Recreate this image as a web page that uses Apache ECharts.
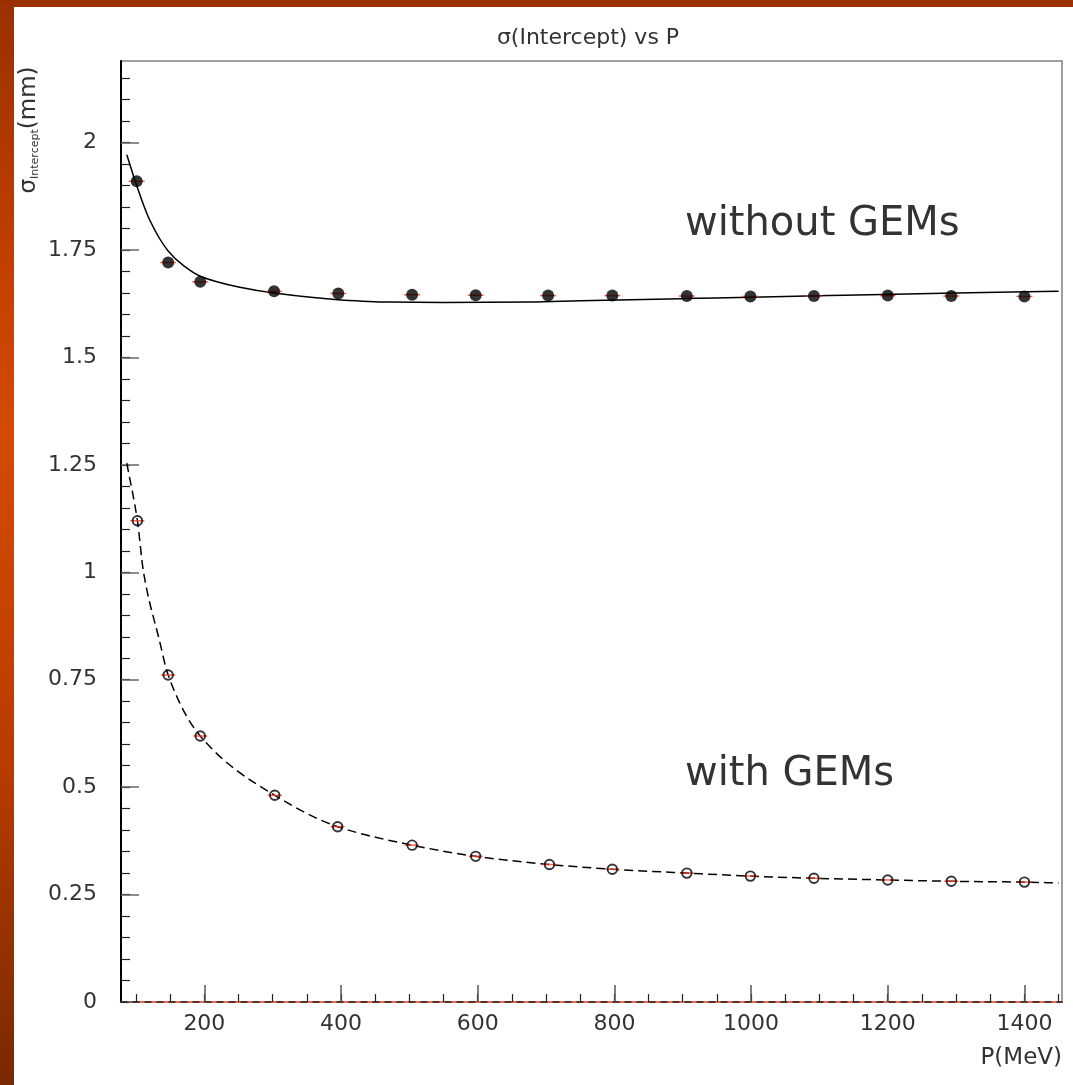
<!DOCTYPE html>
<html>
<head>
<meta charset="utf-8">
<title>σ(Intercept) vs P</title>
<script src="https://cdn.jsdelivr.net/npm/echarts@6/dist/echarts.min.js"></script>
<style>
  html, body { margin: 0; padding: 0; width: 1073px; height: 1085px; overflow: hidden; }
  body { background: linear-gradient(to bottom, #9a3000 0%, #c24000 25%, #d44a00 40%, #b83c00 70%, #7a2800 100%); position: relative; }
  #panel { position: absolute; left: 14px; top: 7px; width: 1059px; height: 1078px; background: #ffffff; }
  #chart { position: absolute; left: 0; top: 0; width: 1073px; height: 1085px; }
</style>
</head>
<body>
<div id="panel"></div>
<div id="chart"></div>
<script>
// Momentum (MeV) and intercept resolution (mm) for the two tracking setups
const pWithoutGEMs = [101, 147, 194, 302, 396, 504, 597, 703, 797, 906, 999, 1092, 1200, 1293, 1400];
const sigmaWithoutGEMs = [1.910, 1.721, 1.676, 1.654, 1.649, 1.646, 1.645, 1.644, 1.644, 1.643, 1.642, 1.643, 1.644, 1.643, 1.642];

const pWithGEMs = [102, 147, 194, 303, 395, 504, 597, 705, 797, 906, 999, 1092, 1200, 1293, 1400];
const sigmaWithGEMs = [1.120, 0.761, 0.619, 0.481, 0.408, 0.365, 0.339, 0.320, 0.309, 0.300, 0.293, 0.288, 0.284, 0.281, 0.279];

// Fitted curves, sampled along P
const fitWithoutP = [86.5, 101, 120, 147, 170, 194, 250, 302, 400, 470, 550, 676, 750, 900, 1000, 1115, 1300, 1450];
const fitWithoutSigma = [1.972, 1.900, 1.820, 1.748, 1.713, 1.689, 1.664, 1.650, 1.634, 1.629, 1.628, 1.629, 1.632, 1.637, 1.640, 1.644, 1.650, 1.654];

const fitWithP = [86.5, 102, 111, 134, 147, 194, 303, 395, 504, 597, 705, 797, 906, 999, 1092, 1200, 1293, 1400, 1450];
const fitWithSigma = [1.254, 1.120, 1.000, 0.843, 0.761, 0.619, 0.481, 0.408, 0.365, 0.339, 0.320, 0.309, 0.300, 0.293, 0.288, 0.284, 0.281, 0.279, 0.277];

// Axis ticks and labels
const xMajorTicks = [200, 400, 600, 800, 1000, 1200, 1400];
const yMajorTicks = [0, 0.25, 0.5, 0.75, 1, 1.25, 1.5, 1.75, 2];
const xMinorTicks = [];
for (let v = 100; v <= 1450; v += 50) xMinorTicks.push(v);
const yMinorTicks = [];
for (let i = 0; i <= 43; i++) yMinorTicks.push(+(i * 0.05).toFixed(2));

const X_MIN = 78, X_MAX = 1455, Y_MIN = 0, Y_MAX = 2.19;
const FONT = '"DejaVu Sans", "Liberation Sans", sans-serif';
const TEXT = '#333333';

const zip = (xs, ys) => xs.map((x, i) => [x, ys[i]]);

// Monotone cubic (Fritsch–Carlson) path through the projected fit samples
function monotonePath(pts) {
  const n = pts.length;
  if (n < 2) return '';
  const h = [], d = [], m = new Array(n);
  for (let i = 0; i < n - 1; i++) {
    h[i] = pts[i + 1][0] - pts[i][0];
    d[i] = (pts[i + 1][1] - pts[i][1]) / h[i];
  }
  m[0] = d[0];
  m[n - 1] = d[n - 2];
  for (let i = 1; i < n - 1; i++) {
    if (d[i - 1] * d[i] <= 0) { m[i] = 0; continue; }
    const w1 = 2 * h[i] + h[i - 1], w2 = h[i] + 2 * h[i - 1];
    m[i] = (w1 + w2) / (w1 / d[i - 1] + w2 / d[i]);
  }
  let s = 'M' + pts[0][0] + ' ' + pts[0][1];
  for (let i = 0; i < n - 1; i++) {
    const t = h[i] / 3;
    s += ' C' + (pts[i][0] + t) + ' ' + (pts[i][1] + m[i] * t) + ' ' +
         (pts[i + 1][0] - t) + ' ' + (pts[i + 1][1] - m[i + 1] * t) + ' ' +
         pts[i + 1][0] + ' ' + pts[i + 1][1];
  }
  return s;
}

function curveSeries(name, xs, ys, dash) {
  return {
    name: name, type: 'custom', z: 2, silent: true, clip: true,
    data: zip(xs, ys),
    renderItem: function (params, api) {
      if (params.dataIndex !== 0) return null;
      const pts = xs.map((x, i) => api.coord([x, ys[i]]));
      return {
        type: 'path',
        shape: { pathData: monotonePath(pts) },
        style: { fill: null, stroke: '#000', lineWidth: 1.5, lineDash: dash }
      };
    }
  };
}

const chart = echarts.init(document.getElementById('chart'), null, { renderer: 'canvas' });

chart.setOption({
  backgroundColor: 'transparent',
  animation: false,
  grid: {
    left: 121, right: 11, top: 61, bottom: 83,
    show: true, borderColor: '#808080', borderWidth: 1.5, backgroundColor: 'transparent'
  },
  xAxis: [
    {
      type: 'value', min: X_MIN, max: X_MAX, position: 'bottom',
      axisLine: { show: true, lineStyle: { color: '#ff5a3a', width: 1.5 } },
      axisTick: { show: true, inside: true, length: 8, customValues: xMinorTicks, lineStyle: { color: '#222', width: 1.2 } },
      axisLabel: { show: false },
      splitLine: { show: false }
    },
    {
      type: 'value', min: X_MIN, max: X_MAX, position: 'bottom', z: 3,
      axisLine: { show: true, lineStyle: { color: '#222', width: 1.5, type: [6, 6] } },
      axisTick: { show: true, inside: true, length: 17, customValues: xMajorTicks, lineStyle: { color: '#555', width: 1.5 } },
      axisLabel: { show: true, customValues: xMajorTicks, margin: 11, fontFamily: FONT, fontSize: 22, color: TEXT,
                   formatter: v => String(v) },
      splitLine: { show: false }
    }
  ],
  yAxis: [
    {
      type: 'value', min: Y_MIN, max: Y_MAX, position: 'left',
      axisLine: { show: true, lineStyle: { color: '#000', width: 2 } },
      axisTick: { show: true, inside: true, length: 9, customValues: yMinorTicks, lineStyle: { color: '#222', width: 1.2 } },
      axisLabel: { show: false },
      splitLine: { show: false }
    },
    {
      type: 'value', min: Y_MIN, max: Y_MAX, position: 'left',
      axisLine: { show: false },
      axisTick: { show: true, inside: true, length: 18, customValues: yMajorTicks, lineStyle: { color: '#666', width: 1.5 } },
      axisLabel: { show: true, customValues: yMajorTicks, margin: 24, fontFamily: FONT, fontSize: 22, color: TEXT,
                   formatter: v => String(v) },
      splitLine: { show: false }
    }
  ],
  series: [
    curveSeries('fit without GEMs', fitWithoutP, fitWithoutSigma, null),
    curveSeries('fit with GEMs', fitWithP, fitWithSigma, [9, 5]),
    {
      name: 'error without GEMs', type: 'scatter', data: zip(pWithoutGEMs, sigmaWithoutGEMs),
      symbol: 'rect', symbolSize: [16, 1.5], z: 3, silent: true,
      itemStyle: { color: '#ff3b1f' }
    },
    {
      name: 'error with GEMs', type: 'scatter', data: zip(pWithGEMs, sigmaWithGEMs),
      symbol: 'rect', symbolSize: [14, 1.5], z: 3, silent: true,
      itemStyle: { color: '#ff3b1f' }
    },
    {
      name: 'without GEMs', type: 'scatter', data: zip(pWithoutGEMs, sigmaWithoutGEMs),
      symbol: 'circle', symbolSize: 12, z: 4,
      itemStyle: { color: '#000' }
    },
    {
      name: 'with GEMs', type: 'scatter', data: zip(pWithGEMs, sigmaWithGEMs),
      symbol: 'circle', symbolSize: 9.5, z: 4,
      itemStyle: { color: 'rgba(255,255,255,0)', borderColor: '#000', borderWidth: 1.9 }
    }
  ],
  graphic: [
    {
      type: 'text', z: 10, x: 588, y: 38,
      style: { text: 'σ(Intercept) vs P', font: '22px ' + FONT, fill: TEXT, align: 'center', verticalAlign: 'middle' }
    },
    {
      type: 'text', z: 10, x: 41, y: 130, rotation: Math.PI / 2,
      style: {
        text: '{m|σ}{s|Intercept}{m|(mm)}',
        align: 'center', verticalAlign: 'bottom',
        rich: {
          m: { font: '23px ' + FONT, fill: TEXT, verticalAlign: 'bottom', lineHeight: 28 },
          s: { font: '11px ' + FONT, fill: TEXT, verticalAlign: 'bottom', lineHeight: 12 }
        }
      }
    },
    {
      type: 'text', z: 10, x: 1062, y: 1058,
      style: { text: 'P(MeV)', font: '23px ' + FONT, fill: TEXT, align: 'right', verticalAlign: 'middle' }
    },
    {
      type: 'text', z: 10, x: 685, y: 225,
      style: { text: 'without GEMs', font: '40px ' + FONT, fill: TEXT, align: 'left', verticalAlign: 'middle' }
    },
    {
      type: 'text', z: 10, x: 685, y: 775,
      style: { text: 'with GEMs', font: '40px ' + FONT, fill: TEXT, align: 'left', verticalAlign: 'middle' }
    }
  ]
});
</script>
</body>
</html>
